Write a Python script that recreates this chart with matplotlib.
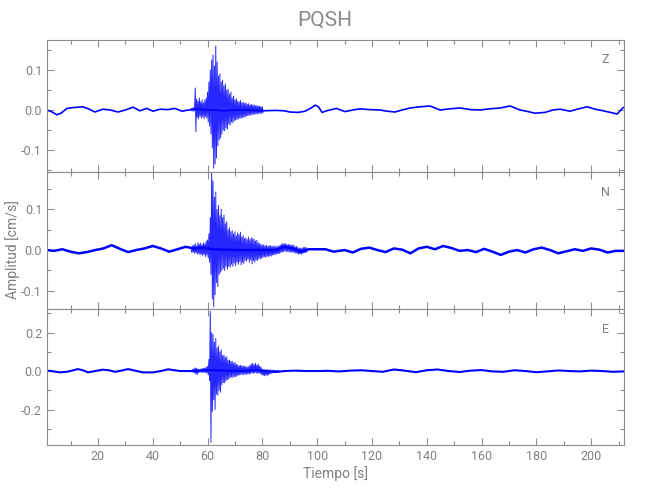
import numpy as np
import matplotlib
matplotlib.use("Agg")
import matplotlib.pyplot as plt
from matplotlib.ticker import MultipleLocator

plt.rcParams['font.family'] = ['Roboto', 'DejaVu Sans']
plt.rcParams['axes.unicode_minus'] = True

title = "PQSH"
components = ["Z", "N", "E"]
x_label = "Tiempo [s]"
y_label = "Amplitud [cm/s]"
x_range = (1.4, 212.0)

# ---------------- Z component ----------------
z_base_t = [1.4, 3, 5.0, 6.5, 8.7, 11, 14.5, 16.5, 18.9, 21.8, 24.5, 27.3, 30, 32.8, 35.3, 37.8,
            40.1, 42.6, 45.5, 48.1, 50.7, 53, 55.4, 58, 62, 66, 70, 75, 80, 85, 88, 90, 93, 95.6,
            97.5, 99.3, 100.5, 101.8, 103.5, 104.7, 107, 110.2, 113, 115.7, 119, 123.0, 125.5,
            128.4, 131, 133.9, 137.5, 141.2, 144.9, 148.5, 152.2, 156, 159.5, 163, 166.8, 170.4,
            174.1, 177, 179.5, 183.2, 186, 188.7, 192.3, 195.5, 198.5, 201.5, 204.4, 207, 209.5, 211.7]
z_base_v = [0.0, -0.004, -0.012, -0.008, 0.004, 0.006, 0.008, 0.003, -0.005, 0.002, 0.0, -0.005,
            0.0, 0.007, -0.002, 0.004, -0.003, 0.002, 0.001, 0.004, -0.003, 0.0, 0.002, 0.001, 0.0,
            -0.002, 0.0, 0.0, -0.002, -0.001, -0.002, -0.005, -0.006, -0.003, 0.004, 0.012, 0.008,
            -0.006, -0.002, 0.0, 0.004, -0.004, 0.0, 0.003, 0.001, 0.0, -0.003, -0.005, 0.0, 0.005,
            0.008, 0.010, 0.0, 0.003, 0.005, 0.001, 0.0, 0.003, 0.005, 0.010, 0.0, -0.004, -0.008,
            -0.006, 0.0, 0.002, -0.003, 0.003, 0.008, 0.002, -0.002, -0.006, -0.010, 0.006]
z_burst_t0, z_burst_dt = 54.0, 0.5
z_burst_hi = [0.004, 0.005, 0.006, 0.055, 0.028, 0.022, 0.030, 0.020, 0.026, 0.018, 0.025, 0.030,
              0.045, 0.070, 0.100, 0.125, 0.137, 0.110, 0.160, 0.120, 0.085, 0.090, 0.070, 0.075,
              0.060, 0.065, 0.050, 0.052, 0.040, 0.045, 0.030, 0.035, 0.025, 0.028, 0.022, 0.020,
              0.024, 0.018, 0.020, 0.016, 0.018, 0.014, 0.016, 0.012, 0.014, 0.012, 0.013, 0.010,
              0.011, 0.010, 0.009, 0.008, 0.008]
z_burst_lo = [-0.002, -0.003, -0.002, -0.054, -0.018, -0.022, -0.015, -0.020, -0.017, -0.022,
              -0.016, -0.020, -0.030, -0.040, -0.060, -0.095, -0.145, -0.135, -0.120, -0.090,
              -0.075, -0.070, -0.060, -0.050, -0.052, -0.045, -0.048, -0.035, -0.038, -0.030,
              -0.032, -0.027, -0.025, -0.024, -0.022, -0.020, -0.021, -0.018, -0.019, -0.016,
              -0.015, -0.014, -0.013, -0.012, -0.012, -0.010, -0.011, -0.009, -0.010, -0.009,
              -0.008, -0.008, -0.007]

# ---------------- N component ----------------
n_base_t = [1.4, 4, 7, 10, 13, 16, 19, 22, 25, 28, 31, 34, 37, 40, 43, 46, 49, 52, 55, 58, 62, 70,
            80, 85, 88, 91, 94, 97, 100, 103, 106, 110, 113, 116, 119, 122, 125, 128, 131, 134,
            137, 140, 143, 146, 149, 152, 155, 158, 161, 164, 167, 170, 173, 176, 179, 182, 185,
            188, 191, 194, 197, 200, 203, 206, 209, 211.7]
n_base_v = [0.0, -0.002, 0.002, -0.004, -0.008, -0.005, 0.0, 0.004, 0.012, 0.003, -0.005, 0.0,
            0.004, 0.010, 0.004, -0.004, 0.002, 0.008, 0.004, 0.006, 0.002, 0.0, 0.0, 0.0, 0.008,
            0.004, -0.004, 0.002, 0.002, 0.002, -0.004, 0.0, -0.006, 0.003, 0.006, 0.0, -0.005,
            0.004, 0.001, -0.008, 0.004, 0.008, 0.002, 0.010, 0.005, -0.002, 0.0, -0.005, 0.003,
            -0.004, -0.012, -0.004, 0.0, -0.006, 0.002, 0.006, 0.0, -0.008, -0.003, 0.002, -0.002,
            0.004, 0.001, -0.006, -0.002, -0.002]
n_burst_t0, n_burst_dt = 54.0, 0.5
n_burst_hi = [0.006, 0.010, 0.012, 0.016, 0.010, 0.018, 0.014, 0.017, 0.012, 0.018, 0.015, 0.022,
              0.025, 0.040, 0.080, 0.200, 0.170, 0.130, 0.143, 0.100, 0.110, 0.085, 0.100, 0.080,
              0.086, 0.065, 0.070, 0.050, 0.055, 0.045, 0.048, 0.040, 0.045, 0.035, 0.042, 0.038,
              0.044, 0.032, 0.036, 0.028, 0.030, 0.026, 0.032, 0.025, 0.030, 0.028, 0.026, 0.022,
              0.024, 0.018, 0.016, 0.014, 0.012, 0.013, 0.010, 0.012, 0.009, 0.011, 0.010, 0.009,
              0.010, 0.008, 0.010, 0.008, 0.010, 0.012, 0.014, 0.016, 0.015, 0.016, 0.013, 0.014,
              0.012, 0.013, 0.011, 0.012, 0.008, 0.009, 0.006, 0.005, 0.004, 0.005, 0.006, 0.007,
              0.006]
n_burst_lo = [-0.006, -0.005, -0.008, -0.006, -0.010, -0.008, -0.012, -0.010, -0.014, -0.010,
              -0.016, -0.012, -0.020, -0.030, -0.060, -0.120, -0.140, -0.110, -0.080, -0.090,
              -0.060, -0.055, -0.050, -0.045, -0.050, -0.040, -0.047, -0.040, -0.042, -0.035,
              -0.040, -0.032, -0.038, -0.030, -0.035, -0.028, -0.036, -0.030, -0.033, -0.025,
              -0.027, -0.022, -0.030, -0.024, -0.034, -0.026, -0.030, -0.024, -0.026, -0.020,
              -0.022, -0.020, -0.018, -0.016, -0.018, -0.015, -0.016, -0.014, -0.015, -0.012,
              -0.012, -0.010, -0.010, -0.009, -0.008, -0.006, -0.005, -0.004, -0.002, -0.004,
              -0.003, -0.005, -0.004, -0.006, -0.005, -0.006, -0.008, -0.008, -0.010, -0.009,
              -0.010, -0.008, -0.007, -0.006, -0.005]

# ---------------- E component ----------------
e_base_t = [1.4, 3, 6.2, 9, 12.7, 14.5, 16.4, 19, 21.8, 24, 26.2, 28.5, 31, 33.5, 36.4, 40.1, 43,
            45.6, 48, 50, 52.5, 55, 58, 60, 66, 72, 78, 85, 88, 92, 96, 100, 104, 108, 112, 116,
            120, 124, 128, 132, 136, 140, 144, 148, 152, 156, 160, 164, 168, 172, 176, 180, 184,
            188, 192, 196, 200, 204, 208, 211.7]
e_base_v = [0.002, 0.0, -0.007, -0.003, 0.010, 0.004, -0.007, 0.0, 0.007, 0.004, -0.004, 0.002,
            0.010, 0.002, -0.007, -0.007, 0.0, 0.009, 0.004, 0.0, 0.0, 0.0, 0.003, 0.005, 0.002,
            0.0, 0.004, -0.005, 0.0, 0.002, 0.0, 0.0, 0.001, -0.002, 0.002, 0.004, 0.0, -0.004,
            0.008, 0.002, -0.006, 0.004, 0.008, 0.0, -0.005, 0.002, 0.005, -0.002, -0.004, 0.004,
            0.0, -0.006, -0.002, 0.003, 0.0, -0.002, 0.002, 0.0, -0.004, -0.002]
e_burst_t0, e_burst_dt = 54.0, 0.5
e_burst_hi = [0.004, 0.008, 0.012, 0.017, 0.014, 0.010, 0.008, 0.010, 0.012, 0.014, 0.016, 0.018,
              0.025, 0.060, 0.310, 0.200, 0.190, 0.150, 0.170, 0.120, 0.130, 0.100, 0.110, 0.080,
              0.083, 0.070, 0.075, 0.055, 0.057, 0.050, 0.052, 0.040, 0.045, 0.035, 0.031, 0.028,
              0.030, 0.025, 0.028, 0.022, 0.025, 0.020, 0.022, 0.030, 0.035, 0.040, 0.032, 0.040,
              0.030, 0.035, 0.025, 0.020, 0.010, 0.007, 0.008, 0.006, 0.007, 0.005, 0.006, 0.004,
              0.005, 0.004, 0.004, 0.003, 0.003]
e_burst_lo = [-0.004, -0.006, -0.010, -0.015, -0.018, -0.008, -0.006, -0.006, -0.008, -0.006,
              -0.008, -0.010, -0.020, -0.050, -0.370, -0.210, -0.150, -0.200, -0.120, -0.125,
              -0.100, -0.110, -0.070, -0.060, -0.062, -0.050, -0.045, -0.040, -0.036, -0.030,
              -0.034, -0.028, -0.030, -0.025, -0.021, -0.020, -0.018, -0.016, -0.020, -0.015,
              -0.018, -0.014, -0.016, -0.012, -0.010, -0.012, -0.008, -0.010, -0.012, -0.010,
              -0.014, -0.018, -0.022, -0.025, -0.020, -0.024, -0.018, -0.016, -0.012, -0.010,
              -0.008, -0.007, -0.006, -0.005, -0.004]

y_limits = [(-0.155, 0.175), (-0.145, 0.192), (-0.384, 0.322)]
y_major = [0.1, 0.1, 0.2]
y_minor = [0.05, 0.05, 0.1]

traces = [
    (z_base_t, z_base_v, z_burst_t0, z_burst_dt, z_burst_hi, z_burst_lo, 1.2),
    (n_base_t, n_base_v, n_burst_t0, n_burst_dt, n_burst_hi, n_burst_lo, 1.8),
    (e_base_t, e_base_v, e_burst_t0, e_burst_dt, e_burst_hi, e_burst_lo, 1.5),
]

gray = '#8c8c8c'
tcol = '#808080'
blue = '#0000ff'

fig = plt.figure(figsize=(6.5, 5.0), dpi=100)
positions = [[0.0723, 0.656, 0.8877, 0.264],
             [0.0723, 0.382, 0.8877, 0.274],
             [0.0723, 0.110, 0.8877, 0.272]]

axes = []
for i, (bt, bv, t0, dt, hi, lo, lw) in enumerate(traces):
    ax = fig.add_axes(positions[i])
    axes.append(ax)
    n = len(hi)
    tt = t0 + dt * np.arange(n)
    zz_t = np.empty(2 * n)
    zz_v = np.empty(2 * n)
    zz_t[0::2] = tt
    zz_t[1::2] = tt + dt / 2
    zz_v[0::2] = hi
    zz_v[1::2] = lo
    ax.plot(zz_t, zz_v, color=blue, lw=0.7, alpha=0.85)
    ax.plot(bt, bv, color=blue, lw=lw, solid_joinstyle='round')
    ax.set_xlim(*x_range)
    ax.set_ylim(*y_limits[i])
    ax.xaxis.set_major_locator(MultipleLocator(20))
    ax.xaxis.set_minor_locator(MultipleLocator(10))
    ax.yaxis.set_major_locator(MultipleLocator(y_major[i]))
    ax.yaxis.set_minor_locator(MultipleLocator(y_minor[i]))
    ax.tick_params(which='both', direction='in', top=True, right=True, color=gray,
                   labelcolor=tcol, labelsize=9, width=0.8)
    ax.tick_params(which='major', length=5)
    ax.tick_params(which='minor', length=3)
    ax.yaxis.set_major_formatter(matplotlib.ticker.FormatStrFormatter('%.1f'))
    for s in ax.spines.values():
        s.set_color(gray)
        s.set_linewidth(0.8)
    if i < 2:
        ax.tick_params(labelbottom=False)
    ax.text(0.968, 0.85, components[i], transform=ax.transAxes, color=tcol,
            fontsize=9, ha='center', va='center')

axes[2].set_xlabel(x_label, color=tcol, fontsize=10, labelpad=2)
fig.text(0.02, 0.5, y_label, rotation=90, color=tcol, fontsize=10,
         ha='center', va='center')
fig.text(0.5, 0.96, title, color='#8a8a8a', fontsize=15, ha='center', va='center')

fig.savefig('out.png', dpi=100)
